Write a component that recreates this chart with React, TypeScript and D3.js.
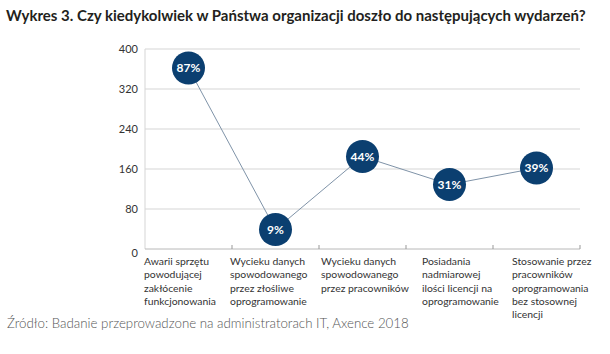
import * as d3 from "d3";
import React from "react";

const title = "Wykres 3. Czy kiedykolwiek w Państwa organizacji doszło do następujących wydarzeń?";
const source = "Źródło: Badanie przeprowadzone na administratorach IT, Axence 2018";

const categories = [
  ["Awarii sprzętu", "powodującej", "zakłócenie", "funkcjonowania"],
  ["Wycieku danych", "spowodowanego", "przez złośliwe", "oprogramowanie"],
  ["Wycieku danych", "spowodowanego", "przez pracowników"],
  ["Posiadania", "nadmiarowej", "ilości licencji na", "oprogramowanie"],
  ["Stosowanie przez", "pracowników", "oprogramowania", "bez stosownej", "licencji"],
];
const values = [362, 39, 185, 129, 162];
const percents = ["87%", "9%", "44%", "31%", "39%"];
const yTicks = [0, 80, 160, 240, 320, 400];

// horizontal shift of each wrapped label block relative to its band start
const labelShift = [-1, -2, 2, 16, 19];

const W = 610;
const H = 354;
const font = "Lato, 'Open Sans', sans-serif";

export default function App() {
  const keys = categories.map((c, i) => String(i));
  const x = d3.scaleBand().domain(keys).range([145, 580]).padding(0);
  const y = d3.scaleLinear().domain([0, 400]).range([249, 49]);

  const line = d3
    .line<number>()
    .x((_, i) => (x(String(i)) as number) + x.bandwidth() / 2)
    .y((d) => y(d));

  const boundaries = keys.map((k) => (x(k) as number) + x.bandwidth());

  return (
    <svg
      width={W}
      height={H}
      style={{ position: "absolute", left: 0, top: 0, background: "#fff" }}
      fontFamily={font}
    >
      <text x={6} y={21} fontSize={15} fontWeight={700} fill="#231f20">
        {title}
      </text>

      {/* grid + y labels */}
      {yTicks.map((t) => (
        <g key={t}>
          {t > 0 && (
            <line x1={145} x2={580} y1={y(t)} y2={y(t)} stroke="#e3e3e3" strokeWidth={1.5} />
          )}
          <text
            x={138}
            y={y(t)}
            dy={t === 0 ? "0.75em" : "0.35em"}
            textAnchor="end"
            fontSize={11}
            fill="#333"
          >
            {t}
          </text>
        </g>
      ))}

      {/* axes */}
      <line x1={145} x2={145} y1={y(400)} y2={y(0)} stroke="#d5d5d5" strokeWidth={1} />
      <line x1={145} x2={580} y1={y(0)} y2={y(0)} stroke="#b8b8b8" strokeWidth={1} />
      {boundaries.map((b, i) => (
        <line key={i} x1={b} x2={b} y1={y(0) - 4} y2={y(0)} stroke="#999" strokeWidth={1} />
      ))}

      {/* x labels */}
      {categories.map((lines, i) => {
        const lx = (x(String(i)) as number) + labelShift[i];
        return (
          <text key={i} x={lx} y={265} fontSize={10.4} fill="#333">
            {lines.map((l, j) => (
              <tspan key={j} x={lx} dy={j === 0 ? 0 : 13.3}>
                {l}
              </tspan>
            ))}
          </text>
        );
      })}

      {/* line + markers */}
      <path d={line(values) as string} fill="none" stroke="#7f93a8" strokeWidth={1} />
      {values.map((v, i) => {
        const cx = (x(String(i)) as number) + x.bandwidth() / 2;
        return (
          <g key={i}>
            <circle cx={cx} cy={y(v)} r={16.5} fill="#0b3f70" />
            <text
              x={cx}
              y={y(v)}
              dy="0.35em"
              textAnchor="middle"
              fontSize={12}
              fontWeight={700}
              fill="#fff"
            >
              {percents[i]}
            </text>
          </g>
        );
      })}

      <text x={7} y={328} fontSize={13.3} fontWeight={300} fill="#555">
        {source}
      </text>
    </svg>
  );
}
